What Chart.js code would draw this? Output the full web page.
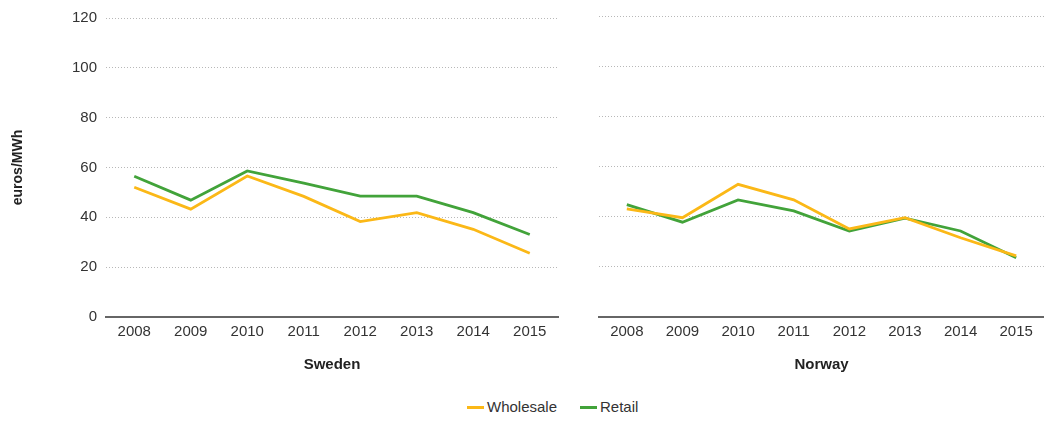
<!DOCTYPE html>
<html>
<head>
<meta charset="utf-8">
<script src="https://cdn.jsdelivr.net/npm/chart.js@4"></script>
<style>
  html, body { margin: 0; padding: 0; background: #fff; }
  body { width: 1044px; height: 421px; position: relative; overflow: hidden;
         font-family: 'Liberation Sans Narrow', 'Arial Narrow', 'Liberation Sans', Arial, sans-serif; }
  #left { position: absolute; left: 0; top: 0; width: 570px; height: 380px; }
  #right { position: absolute; left: 590px; top: 0; width: 454px; height: 380px; }
  .leg { position: absolute; top: 398px; font-size: 15px; color: #333; line-height: 18px; }
  .leg i { display: inline-block; width: 17px; height: 3px; vertical-align: middle; margin-right: 3px; position: relative; top: -1px; }
</style>
</head>
<body>
<div id="left"><canvas id="c1"></canvas></div>
<div id="right"><canvas id="c2"></canvas></div>
<div class="leg" style="left:467px"><i style="background:#FBB817"></i>Wholesale</div>
<div class="leg" style="left:580px"><i style="background:#42A33A"></i>Retail</div>
<script>
const years = ['2008', '2009', '2010', '2011', '2012', '2013', '2014', '2015'];
const yTicks = [0, 20, 40, 60, 80, 100, 120];
const swedenWholesale = [52.1, 43.3, 56.6, 48.4, 38.3, 41.9, 35.2, 25.6];
const swedenRetail    = [56.5, 46.9, 58.6, 53.7, 48.5, 48.5, 41.9, 33.1];
const norwayWholesale = [43.1, 39.6, 52.9, 46.7, 35.1, 39.6, 31.6, 24.4];
const norwayRetail    = [44.8, 37.8, 46.7, 42.3, 34.3, 39.4, 34.3, 23.6];

const FONT = "'Liberation Sans Narrow', 'Arial Narrow', 'Liberation Sans', Arial, sans-serif";
const WHOLESALE = '#FBB817';
const RETAIL = '#42A33A';

function makeChart(id, title, wholesale, retail, showY) {
  return new Chart(document.getElementById(id), {
    type: 'line',
    data: {
      labels: years,
      datasets: [
        { label: 'Wholesale', data: wholesale, borderColor: WHOLESALE, borderWidth: 2.8, pointRadius: 0, tension: 0, fill: false },
        { label: 'Retail', data: retail, borderColor: RETAIL, borderWidth: 2.8, pointRadius: 0, tension: 0, fill: false }
      ]
    },
    options: {
      responsive: true,
      maintainAspectRatio: false,
      animation: false,
      layout: { padding: { top: 16, right: showY ? 12 : 0, left: 0, bottom: 0 } },
      plugins: { legend: { display: false }, tooltip: { enabled: false } },
      scales: {
        x: {
          offset: true,
          grid: { display: false, drawTicks: false },
          border: { display: true, color: '#666', width: 2 },
          ticks: { color: '#333', font: { family: FONT, size: 15 }, padding: 6, maxRotation: 0 },
          title: { display: true, text: title, color: '#222', font: { family: FONT, size: 15, weight: 'bold' }, padding: { top: 4, bottom: 6 } },
          afterFit: s => { s.height = 63; }
        },
        y: {
          min: 0, max: 120,
          afterBuildTicks: s => { s.ticks = yTicks.map(v => ({ value: v })); },
          grid: { color: '#b8b8b8', lineWidth: 1, drawTicks: false },
          border: { display: false, dash: [1, 2] },
          ticks: { display: showY, color: '#333', font: { family: FONT, size: 15 }, padding: 9 },
          title: { display: showY, text: 'euros/MWh', color: '#222', font: { family: FONT, size: 14, weight: 'bold' }, padding: { top: 10, bottom: 0 } },
          afterFit: s => { s.width = showY ? 106 : 9; }
        }
      }
    }
  });
}

makeChart('c1', 'Sweden', swedenWholesale, swedenRetail, true);
makeChart('c2', 'Norway', norwayWholesale, norwayRetail, false);
</script>
</body>
</html>
